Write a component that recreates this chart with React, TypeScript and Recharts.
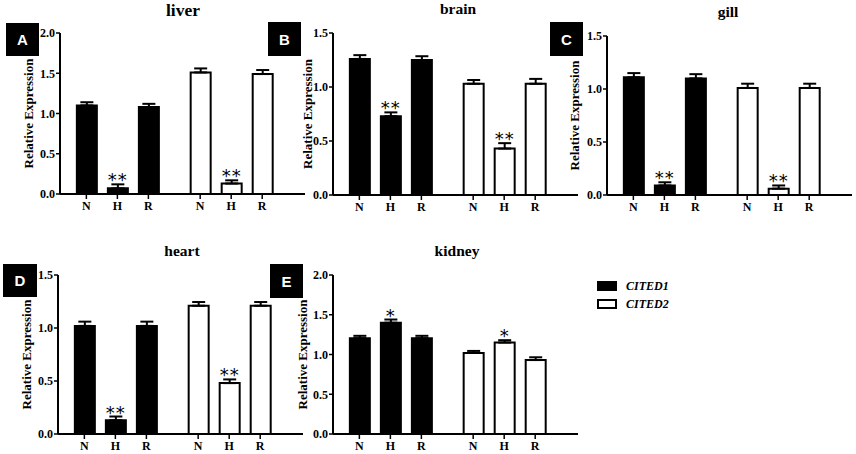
import React from 'react';
import { BarChart, Bar, XAxis, YAxis, ErrorBar, Cell, LabelList, Legend } from 'recharts';

// ---------- data ----------
const groups = ['N', 'H', 'R'];
const seriesNames = ['CITED1', 'CITED2'];
const yTickLabels2 = [0, 0.5, 1.0, 1.5, 2.0];
const yTickLabels15 = [0, 0.5, 1.0, 1.5];

const liverCITED1 = [1.10, 0.07, 1.08];
const liverCITED1Err = [0.04, 0.05, 0.04];
const liverCITED2 = [1.51, 0.13, 1.49];
const liverCITED2Err = [0.05, 0.04, 0.05];
const liverSig1 = ['', '**', ''];
const liverSig2 = ['', '**', ''];

const brainCITED1 = [1.26, 0.73, 1.25];
const brainCITED1Err = [0.035, 0.035, 0.035];
const brainCITED2 = [1.03, 0.43, 1.03];
const brainCITED2Err = [0.035, 0.05, 0.045];
const brainSig1 = ['', '**', ''];
const brainSig2 = ['', '**', ''];

const gillCITED1 = [1.11, 0.09, 1.10];
const gillCITED1Err = [0.04, 0.03, 0.04];
const gillCITED2 = [1.01, 0.06, 1.01];
const gillCITED2Err = [0.04, 0.03, 0.04];
const gillSig1 = ['', '**', ''];
const gillSig2 = ['', '**', ''];

const heartCITED1 = [1.02, 0.13, 1.02];
const heartCITED1Err = [0.04, 0.035, 0.04];
const heartCITED2 = [1.21, 0.48, 1.21];
const heartCITED2Err = [0.035, 0.035, 0.035];
const heartSig1 = ['', '**', ''];
const heartSig2 = ['', '**', ''];

const kidneyCITED1 = [1.205, 1.40, 1.205];
const kidneyCITED1Err = [0.03, 0.04, 0.03];
const kidneyCITED2 = [1.02, 1.15, 0.93];
const kidneyCITED2Err = [0.025, 0.03, 0.035];
const kidneySig1 = ['', '*', ''];
const kidneySig2 = ['', '*', ''];

// ---------- layout ----------
const xSlots = [0, 1, 2, 3.67, 4.67, 5.67];
const X_DOMAIN: [number, number] = [-0.85, 7.05];
const YW = 50;
const PW = 245;
const MT = 10;
const MR = 5;
const XH = 30;
const SERIF = '"Liberation Serif", "Times New Roman", serif';
const SANS = '"Liberation Sans", Arial, sans-serif';

type Row = { x: number; group: string; series: number; value: number; err: [number, number]; sig: string };

function buildRows(v1: number[], e1: number[], s1: string[], v2: number[], e2: number[], s2: string[]): Row[] {
  const rows: Row[] = [];
  groups.forEach((g, i) => rows.push({ x: xSlots[i], group: g, series: 0, value: v1[i], err: [0, e1[i]], sig: s1[i] }));
  groups.forEach((g, i) => rows.push({ x: xSlots[i + 3], group: g, series: 1, value: v2[i], err: [0, e2[i]], sig: s2[i] }));
  return rows;
}

const panels = [
  { key: 'A', title: 'liver', titleSize: 17.5, titleX: 183, titleBase: 16.5, axisX: 60, top: 33, base: 194, box: [6, 23, 33, 33], labelDist: 32, ticks: yTickLabels2,
    rows: buildRows(liverCITED1, liverCITED1Err, liverSig1, liverCITED2, liverCITED2Err, liverSig2) },
  { key: 'B', title: 'brain', titleSize: 15.5, titleX: 458, titleBase: 14, axisX: 333, top: 33, base: 195, box: [268, 22, 33, 34], labelDist: 26, ticks: yTickLabels15,
    rows: buildRows(brainCITED1, brainCITED1Err, brainSig1, brainCITED2, brainCITED2Err, brainSig2) },
  { key: 'C', title: 'gill', titleSize: 15.5, titleX: 728, titleBase: 17, axisX: 607, top: 36, base: 195, box: [550, 22, 33, 34], labelDist: 33, ticks: yTickLabels15,
    rows: buildRows(gillCITED1, gillCITED1Err, gillSig1, gillCITED2, gillCITED2Err, gillSig2) },
  { key: 'D', title: 'heart', titleSize: 15.5, titleX: 182, titleBase: 256, axisX: 58, top: 275, base: 434, box: [3, 264, 34, 33], labelDist: 32, ticks: yTickLabels15,
    rows: buildRows(heartCITED1, heartCITED1Err, heartSig1, heartCITED2, heartCITED2Err, heartSig2) },
  { key: 'E', title: 'kidney', titleSize: 15.5, titleX: 457, titleBase: 256, axisX: 333, top: 275, base: 434, box: [270, 264, 33, 34], labelDist: 31, ticks: yTickLabels2,
    rows: buildRows(kidneyCITED1, kidneyCITED1Err, kidneySig1, kidneyCITED2, kidneyCITED2Err, kidneySig2) },
];

const tickName = (v: number) => {
  const i = xSlots.findIndex((s) => Math.abs(s - v) < 1e-6);
  return i >= 0 ? groups[i % 3] : '';
};

const makeStar = (rows: Row[]) => (props: any) => {
  const vb = props.viewBox || {};
  const x = props.x ?? vb.x;
  const y = props.y ?? vb.y;
  const width = props.width ?? vb.width;
  const height = props.height ?? vb.height;
  const index = props.index;
  const value = props.value;
  if (!value || index == null) return null;
  const r = rows[index];
  const errPx = r.value ? Math.abs(height) * (r.err[1] / r.value) : 0;
  const cx = x + width / 2;
  const ty = y - errPx + 2;
  return (
    <text x={cx} y={ty} textAnchor="middle" fontFamily='"DejaVu Sans", sans-serif' fontSize={18} fill="#000" letterSpacing={1}>
      {value}
    </text>
  );
};

const LEG_EXTRA = 130;

function Panel({ cfg, withLegend }: { cfg: any; withLegend: boolean }) {
  const plotH = cfg.base - cfg.top;
  const extra = withLegend ? LEG_EXTRA : 0;
  const width = YW + PW + MR + extra;
  const height = MT + plotH + XH;
  const left = cfg.axisX - YW;
  const top = cfg.top - MT;
  const yMax = cfg.ticks[cfg.ticks.length - 1];
  const rows: Row[] = cfg.rows;
  const labelX = YW - cfg.labelDist;
  const labelY = MT + plotH / 2;
  const tickStyle = { fill: '#000', fontSize: 12, fontWeight: 'bold', fontFamily: SERIF };
  const [bx, by, bw, bh] = cfg.box;
  const lh = 0.75 * cfg.titleSize;

  const renderLegend = () => (
    <div style={{ fontFamily: SERIF, fontWeight: 'bold', fontStyle: 'italic', fontSize: 12 }}>
      {seriesNames.map((n, i) => (
        <div key={n} style={{ display: 'flex', alignItems: 'center', height: 18 }}>
          <span
            style={{
              display: 'inline-block',
              boxSizing: 'border-box',
              width: 20,
              height: 10,
              background: i === 0 ? '#000' : '#fff',
              border: '2px solid #000',
              marginRight: 9,
            }}
          />
          <span>{n}</span>
        </div>
      ))}
    </div>
  );

  return (
    <>
      <div style={{ position: 'absolute', left, top }}>
        <BarChart width={width} height={height} data={rows} margin={{ top: MT, right: MR + extra, bottom: 0, left: 0 }}>
          <XAxis
            type="number"
            dataKey="x"
            domain={X_DOMAIN}
            ticks={xSlots}
            interval={0}
            allowDataOverflow
            tickFormatter={tickName}
            axisLine={{ stroke: '#000', strokeWidth: 2 }}
            tickLine={{ stroke: '#000', strokeWidth: 1.5 }}
            tickSize={5}
            tick={tickStyle}
            height={XH}
          />
          <YAxis
            type="number"
            domain={[0, yMax]}
            ticks={cfg.ticks}
            interval={0}
            width={YW}
            tickFormatter={(v: number) => v.toFixed(1)}
            axisLine={{ stroke: '#000', strokeWidth: 2 }}
            tickLine={{ stroke: '#000', strokeWidth: 1.5 }}
            tickSize={4}
            tickMargin={1}
            tick={tickStyle}
            label={() => (
              <text
                x={labelX}
                y={labelY}
                transform={`rotate(-90 ${labelX} ${labelY})`}
                textAnchor="middle"
                dominantBaseline="central"
                fontFamily={SERIF}
                fontWeight="bold"
                fontSize={13}
                fill="#000"
              >
                Relative Expression
              </text>
            )}
          />
          {withLegend && (
            <Legend
              layout="vertical"
              align="center"
              verticalAlign="middle"
              content={renderLegend}
              wrapperStyle={{ position: 'absolute', left: 597 - left, top: 277 - top, width: 110, height: 36 }}
            />
          )}
          <Bar dataKey="value" name="value" barSize={20} stroke="#000" strokeWidth={2} isAnimationActive={false}>
            {rows.map((r, i) => (
              <Cell key={i} fill={r.series === 0 ? '#000' : '#fff'} stroke="#000" strokeWidth={2} />
            ))}
            <ErrorBar dataKey="err" direction="y" width={6.5} stroke="#000" strokeWidth={2} isAnimationActive={false} />
            <LabelList dataKey="sig" content={makeStar(rows)} />
          </Bar>
        </BarChart>
      </div>
      <div
        style={{
          position: 'absolute',
          left: cfg.titleX - 60,
          width: 120,
          top: cfg.titleBase - lh / 2 - 0.3375 * cfg.titleSize,
          height: lh,
          textAlign: 'center',
          fontFamily: SERIF,
          fontWeight: 'bold',
          fontSize: cfg.titleSize,
          lineHeight: `${lh}px`,
          color: '#000',
        }}
      >
        {cfg.title}
      </div>
      <div
        style={{
          position: 'absolute',
          left: bx,
          top: by,
          width: bw,
          height: bh,
          background: '#000',
          color: '#fff',
          fontFamily: SANS,
          fontWeight: 'bold',
          fontSize: 15,
          display: 'flex',
          alignItems: 'center',
          justifyContent: 'center',
        }}
      >
        {cfg.key}
      </div>
    </>
  );
}

export default function App() {
  return (
    <div style={{ position: 'absolute', left: 0, top: 0, width: 856, height: 454, background: '#fff', overflow: 'hidden' }}>
      {panels.map((p) => (
        <Panel key={p.key} cfg={p} withLegend={p.key === 'E'} />
      ))}
    </div>
  );
}
